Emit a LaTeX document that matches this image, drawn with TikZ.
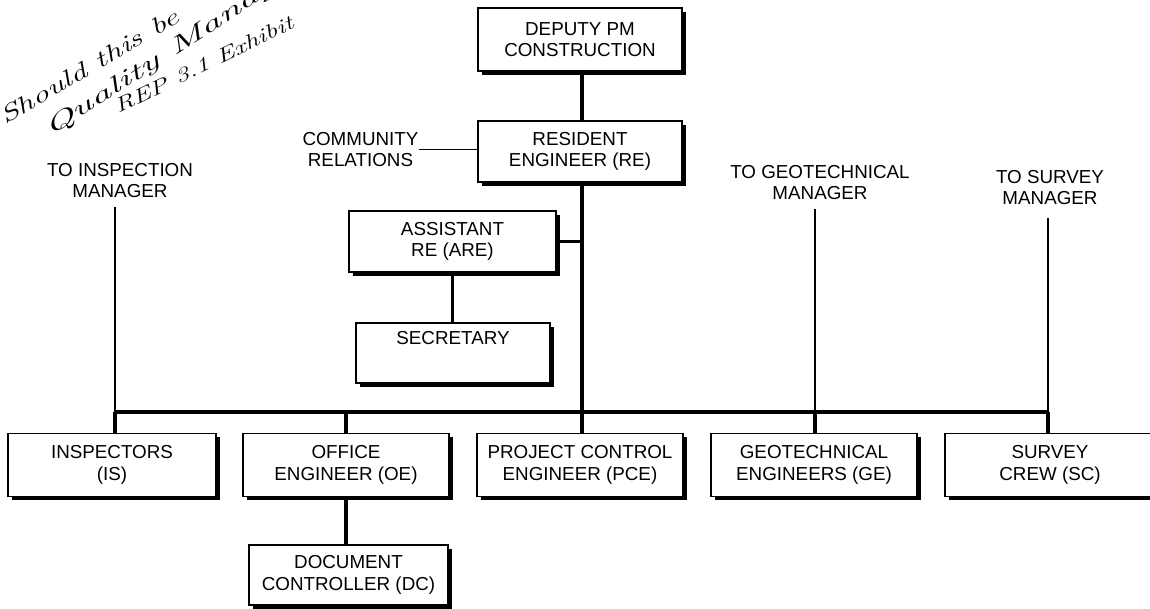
\documentclass[tikz,border=0pt]{standalone}
\usepackage{fontspec}
\newfontfamily\lsans{Liberation Sans}
\usetikzlibrary{shadows}
\begin{document}
\begin{tikzpicture}[x=1pt,y=-1pt,
  box/.style={draw, line width=1.1pt, fill=white, align=center, inner sep=0pt,
    font=\lsans\fontsize{18.8}{21.5}\selectfont,
    drop shadow={shadow xshift=3.5pt, shadow yshift=-3.5pt, fill=black, opacity=1}},
  lbl/.style={align=center, inner sep=0pt, font=\lsans\fontsize{18.8}{21}\selectfont},
  conn/.style={line width=3.2pt},
  thinconn/.style={line width=1.8pt},
  hand/.style={inner sep=0pt, anchor=base west, font=\rmfamily\itshape\fontsize{23}{23}\selectfont}]
\useasboundingbox (0,0) rectangle (1150,608);
\clip (0,0) rectangle (1150,608);

% handwritten note in the corner
\node[hand, rotate=30.5] (h1) at (5,125) {\scalebox{1.5}[1]{Should this be}};
\node[hand, rotate=33] (h2) at (50,137) {\scalebox{1.85}[1]{Quality Manager}};
\node[hand, rotate=26, font=\rmfamily\itshape\fontsize{20}{20}\selectfont] (h3) at (118,114) {\scalebox{1.4}[1]{REP 3.1 Exhibit}};

% upper chain
\node[box, minimum width=204pt, minimum height=63pt] (dpm) at (580,39.5) {DEPUTY PM\\CONSTRUCTION};
\node[box, minimum width=204pt, minimum height=61pt] (re) at (580,151.5) {RESIDENT\\ENGINEER (RE)};
\node[box, minimum width=207pt, minimum height=61pt] (are) at (452.5,241.5) {ASSISTANT\\RE (ARE)};
\node[box, minimum width=194pt, minimum height=60pt] (sec) at (453,353) {SECRETARY\\[8.5pt]\mbox{}};

% bottom row
\node[box, minimum width=208pt, minimum height=63pt] (is) at (112,465) {INSPECTORS\\(IS)};
\node[box, minimum width=206pt, minimum height=63pt] (oe) at (346,465) {OFFICE\\ENGINEER (OE)};
\node[box, minimum width=206pt, minimum height=63pt] (pce) at (580,465) {PROJECT CONTROL\\ENGINEER (PCE)};
\node[box, minimum width=206pt, minimum height=63pt] (ge) at (814,465) {GEOTECHNICAL\\ENGINEERS (GE)};
\node[box, minimum width=210pt, minimum height=63pt] (sc) at (1050,465) {SURVEY\\CREW (SC)};
\node[box, minimum width=199pt, minimum height=60pt] (dc) at (348.5,575) {DOCUMENT\\CONTROLLER (DC)};

% free labels
\node[lbl] (cr) at (360.5,149.5) {COMMUNITY\\RELATIONS};
\node[lbl] (tim) at (120,181) {TO INSPECTION\\MANAGER};
\node[lbl] (tgm) at (820,182.5) {TO GEOTECHNICAL\\MANAGER};
\node[lbl] (tsm) at (1050,188) {TO SURVEY\\MANAGER};

% junction points
\coordinate (tr) at (582,412);
\coordinate (busL) at (115,412);
\coordinate (busR) at (1048,412);
\coordinate (im) at (115,207);
\coordinate (gm) at (815,209);
\coordinate (sm) at (1048,218);

% connectors
\draw[conn] (dpm.south -| tr) -- (re.north -| tr);
\draw[conn] (re.south -| tr) -- (pce.north -| tr);
\draw[conn] (are.east) -- (are.east -| tr);
\draw[conn] (are.south) -- (are.south |- sec.north);
\draw[thinconn] (cr.east) -- (cr.east -| re.west);
\draw[conn, line width=3.5pt] (busL) -- (busR);
\draw[thinconn] (im) -- (busL);
\draw[conn] (busL) -- (is.north -| busL);
\draw[thinconn] (gm) -- (gm |- busL);
\draw[conn] (gm |- busL) -- (ge.north -| gm);
\draw[thinconn] (sm) -- (busR);
\draw[conn] (busR) -- (sc.north -| busR);
\draw[conn] (oe.north |- busL) -- (oe.north);
\draw[conn] (oe.south) -- (oe.south |- dc.north);
\end{tikzpicture}
\end{document}
